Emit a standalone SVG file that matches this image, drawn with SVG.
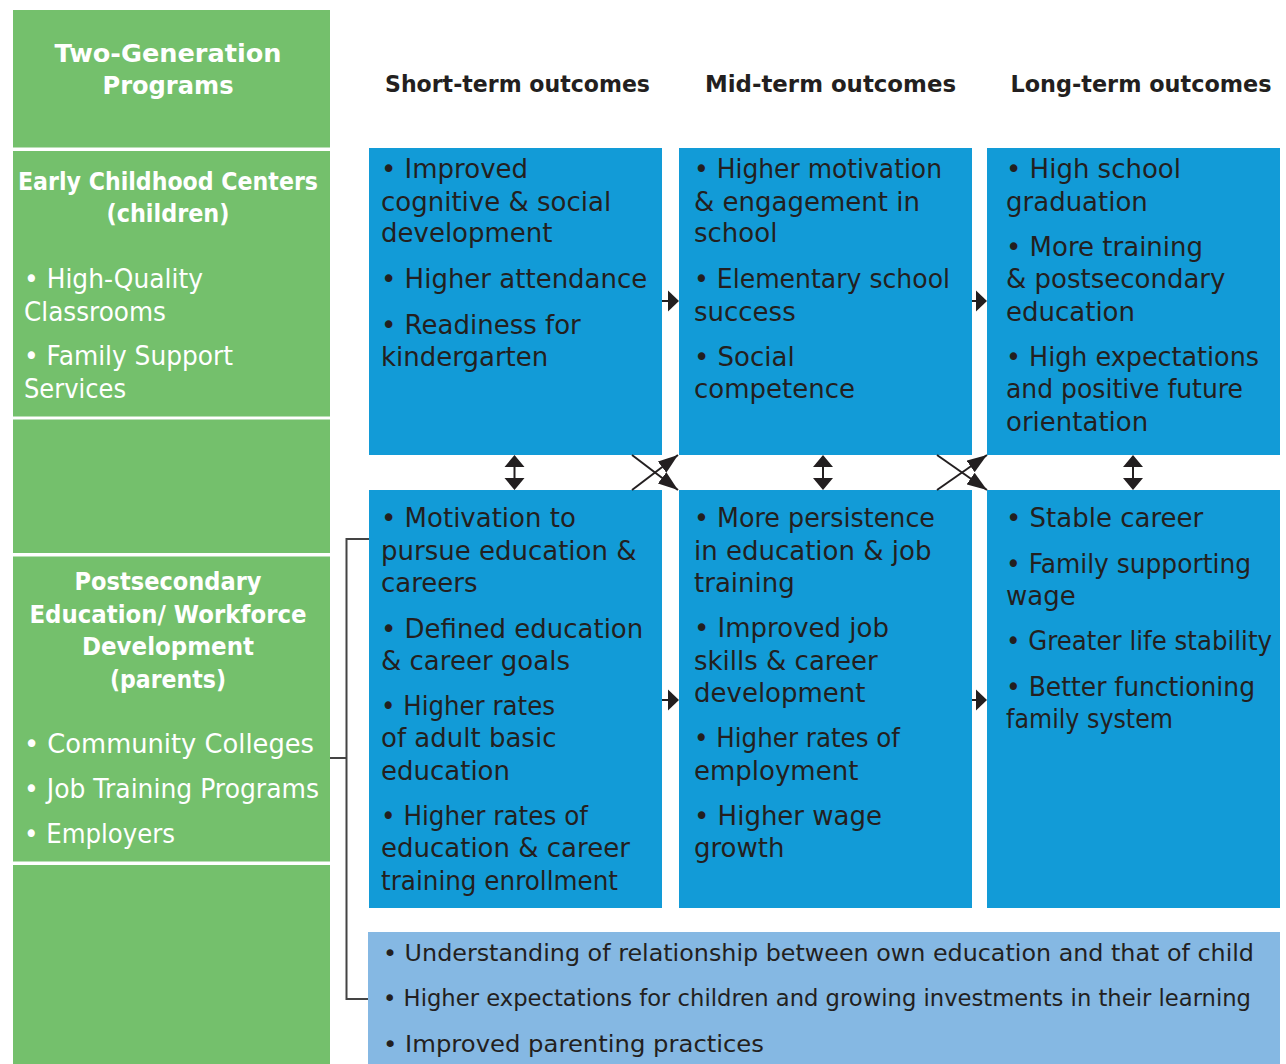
<svg xmlns="http://www.w3.org/2000/svg" width="1286" height="1064" viewBox="0 0 1286 1064">
<style>
.g{fill:#74C06C}
.b{fill:#129BD7}
.lb{fill:#85B8E3}
.t{font-family:"DejaVu Sans",sans-serif;font-size:26px;fill:#231f20}
.s{font-family:"DejaVu Sans",sans-serif;font-size:23px;fill:#231f20}
.w{font-family:"DejaVu Sans",sans-serif;font-size:26px;fill:#fff}
.wh{font-family:"DejaVu Sans",sans-serif;font-weight:bold;font-size:24px;fill:#fff;text-anchor:middle}
.hd{font-family:"DejaVu Sans",sans-serif;font-weight:bold;font-size:23px;fill:#231f20;text-anchor:middle}
.ln{stroke:#231f20;stroke-width:2;fill:none}
.br{stroke:#444;stroke-width:2;fill:none}
.ah{fill:#231f20}
</style>
<defs>
<marker id="xa" markerWidth="20" markerHeight="14" refX="20" refY="7" orient="auto" markerUnits="userSpaceOnUse">
<path d="M0,0 L20,7 L0,14 Z" fill="#231f20"/>
</marker>
</defs>
<rect width="1286" height="1064" fill="#fff"/>

<g id="two-generation-programs">
<rect class="g" x="13" y="10" width="317" height="137.5"/>
<text class="wh" x="168" y="62" font-size="28" textLength="227" lengthAdjust="spacingAndGlyphs">Two-Generation</text>
<text class="wh" x="168" y="94" font-size="28" textLength="131" lengthAdjust="spacingAndGlyphs">Programs</text>
</g>

<g id="early-childhood-centers">
<rect class="g" x="13" y="151" width="317" height="265.5"/>
<text class="wh" x="168" y="190" textLength="300" lengthAdjust="spacingAndGlyphs">Early Childhood Centers</text>
<text class="wh" x="168" y="222" textLength="123" lengthAdjust="spacingAndGlyphs">(children)</text>
<text class="w" x="24" y="288" textLength="179" lengthAdjust="spacingAndGlyphs">• High-Quality</text>
<text class="w" x="24" y="320.5" textLength="142" lengthAdjust="spacingAndGlyphs">Classrooms</text>
<text class="w" x="24" y="365" textLength="209" lengthAdjust="spacingAndGlyphs">• Family Support</text>
<text class="w" x="24" y="397.5" textLength="102" lengthAdjust="spacingAndGlyphs">Services</text>
</g>

<g id="green-spacer-1">
<rect class="g" x="13" y="419.5" width="317" height="133.5"/>
</g>

<g id="postsecondary-workforce">
<rect class="g" x="13" y="556.5" width="317" height="305"/>
<text class="wh" x="168" y="590" textLength="187" lengthAdjust="spacingAndGlyphs">Postsecondary</text>
<text class="wh" x="168" y="622.5" textLength="277" lengthAdjust="spacingAndGlyphs">Education/ Workforce</text>
<text class="wh" x="168" y="655" textLength="172" lengthAdjust="spacingAndGlyphs">Development</text>
<text class="wh" x="168" y="687.5" textLength="116" lengthAdjust="spacingAndGlyphs">(parents)</text>
<text class="w" x="24" y="753" textLength="290" lengthAdjust="spacingAndGlyphs">• Community Colleges</text>
<text class="w" x="24" y="797.5" textLength="295" lengthAdjust="spacingAndGlyphs">• Job Training Programs</text>
<text class="w" x="24" y="842.5" textLength="151" lengthAdjust="spacingAndGlyphs">• Employers</text>
</g>

<g id="green-spacer-2">
<rect class="g" x="13" y="865" width="317" height="199"/>
</g>

<g id="headers">
<text class="hd" x="517.5" y="92" textLength="265" lengthAdjust="spacingAndGlyphs">Short-term outcomes</text>
<text class="hd" x="830.5" y="92" textLength="251" lengthAdjust="spacingAndGlyphs">Mid-term outcomes</text>
<text class="hd" x="1141" y="92" textLength="261" lengthAdjust="spacingAndGlyphs">Long-term outcomes</text>
</g>

<g id="short-term-children">
<rect class="b" x="369" y="148" width="293" height="307"/>
<text class="t" x="381" y="178">• Improved</text>
<text class="t" x="381" y="210.5">cognitive &amp; social</text>
<text class="t" x="381" y="242">development</text>
<text class="t" x="381" y="288">• Higher attendance</text>
<text class="t" x="381" y="334">• Readiness for</text>
<text class="t" x="381" y="366">kindergarten</text>
</g>

<g id="mid-term-children">
<rect class="b" x="679" y="148" width="293" height="307"/>
<text class="t" x="694" y="178" textLength="248" lengthAdjust="spacingAndGlyphs">• Higher motivation</text>
<text class="t" x="694" y="210.5">&amp; engagement in</text>
<text class="t" x="694" y="242">school</text>
<text class="t" x="694" y="288" textLength="256" lengthAdjust="spacingAndGlyphs">• Elementary school</text>
<text class="t" x="694" y="321">success</text>
<text class="t" x="694" y="366">• Social</text>
<text class="t" x="694" y="398">competence</text>
</g>

<g id="long-term-children">
<rect class="b" x="987" y="148" width="293" height="307"/>
<text class="t" x="1006" y="178">• High school</text>
<text class="t" x="1006" y="210.5">graduation</text>
<text class="t" x="1006" y="256">• More training</text>
<text class="t" x="1006" y="288">&amp; postsecondary</text>
<text class="t" x="1006" y="321">education</text>
<text class="t" x="1006" y="366" textLength="253" lengthAdjust="spacingAndGlyphs">• High expectations</text>
<text class="t" x="1006" y="398" textLength="237" lengthAdjust="spacingAndGlyphs">and positive future</text>
<text class="t" x="1006" y="431">orientation</text>
</g>

<g id="short-term-parents">
<rect class="b" x="369" y="490" width="293" height="418"/>
<text class="t" x="381" y="527">• Motivation to</text>
<text class="t" x="381" y="559.5">pursue education &amp;</text>
<text class="t" x="381" y="592">careers</text>
<text class="t" x="381" y="638">• Defined education</text>
<text class="t" x="381" y="670">&amp; career goals</text>
<text class="t" x="381" y="715" textLength="174" lengthAdjust="spacingAndGlyphs">• Higher rates</text>
<text class="t" x="381" y="747">of adult basic</text>
<text class="t" x="381" y="780">education</text>
<text class="t" x="381" y="825" textLength="207" lengthAdjust="spacingAndGlyphs">• Higher rates of</text>
<text class="t" x="381" y="857">education &amp; career</text>
<text class="t" x="381" y="890" textLength="237" lengthAdjust="spacingAndGlyphs">training enrollment</text>
</g>

<g id="mid-term-parents">
<rect class="b" x="679" y="490" width="293" height="418"/>
<text class="t" x="694" y="527" textLength="241" lengthAdjust="spacingAndGlyphs">• More persistence</text>
<text class="t" x="694" y="560">in education &amp; job</text>
<text class="t" x="694" y="592">training</text>
<text class="t" x="694" y="637">• Improved job</text>
<text class="t" x="694" y="670">skills &amp; career</text>
<text class="t" x="694" y="702">development</text>
<text class="t" x="694" y="747" textLength="206" lengthAdjust="spacingAndGlyphs">• Higher rates of</text>
<text class="t" x="694" y="780">employment</text>
<text class="t" x="694" y="825">• Higher wage</text>
<text class="t" x="694" y="857">growth</text>
</g>

<g id="long-term-parents">
<rect class="b" x="987" y="490" width="293" height="418"/>
<text class="t" x="1006" y="527">• Stable career</text>
<text class="t" x="1006" y="573" textLength="245" lengthAdjust="spacingAndGlyphs">• Family supporting</text>
<text class="t" x="1006" y="605">wage</text>
<text class="t" x="1006" y="650" textLength="266" lengthAdjust="spacingAndGlyphs">• Greater life stability</text>
<text class="t" x="1006" y="696" textLength="249" lengthAdjust="spacingAndGlyphs">• Better functioning</text>
<text class="t" x="1006" y="728" textLength="167" lengthAdjust="spacingAndGlyphs">family system</text>
</g>

<g id="parenting-outcomes">
<rect class="lb" x="368" y="932" width="912" height="132"/>
<text class="s" x="383" y="961" textLength="871" lengthAdjust="spacingAndGlyphs">• Understanding of relationship between own education and that of child</text>
<text class="s" x="383" y="1006" textLength="868" lengthAdjust="spacingAndGlyphs">• Higher expectations for children and growing investments in their learning</text>
<text class="s" x="383" y="1052" textLength="381" lengthAdjust="spacingAndGlyphs">• Improved parenting practices</text>
</g>

<g id="connectors">
<path class="br" d="M369,539 H346.5 V999 H368"/>
<path class="br" d="M330,758 H346.5"/>
<line class="ln" x1="662" y1="301" x2="669" y2="301"/>
<path class="ah" d="M668,290.5 L679,301 L668,311.5 Z"/>
<line class="ln" x1="972" y1="301" x2="977" y2="301"/>
<path class="ah" d="M976,290.5 L987,301 L976,311.5 Z"/>
<line class="ln" x1="662" y1="700" x2="669" y2="700"/>
<path class="ah" d="M668,689.5 L679,700 L668,710.5 Z"/>
<line class="ln" x1="972" y1="700" x2="977" y2="700"/>
<path class="ah" d="M976,689.5 L987,700 L976,710.5 Z"/>
<line class="ln" x1="514.5" y1="466" x2="514.5" y2="479"/>
<path class="ah" d="M514.5,455 L524.5,467 L504.5,467 Z M514.5,490 L524.5,478 L504.5,478 Z"/>
<line class="ln" x1="823" y1="466" x2="823" y2="479"/>
<path class="ah" d="M823,455 L833,467 L813,467 Z M823,490 L833,478 L813,478 Z"/>
<line class="ln" x1="1133" y1="466" x2="1133" y2="479"/>
<path class="ah" d="M1133,455 L1143,467 L1123,467 Z M1133,490 L1143,478 L1123,478 Z"/>
<line class="ln" x1="632" y1="455" x2="678" y2="490" marker-end="url(#xa)"/>
<line class="ln" x1="632" y1="490" x2="678" y2="455" marker-end="url(#xa)"/>
<line class="ln" x1="937" y1="455" x2="987" y2="490" marker-end="url(#xa)"/>
<line class="ln" x1="937" y1="490" x2="987" y2="455" marker-end="url(#xa)"/>
</g>
</svg>
